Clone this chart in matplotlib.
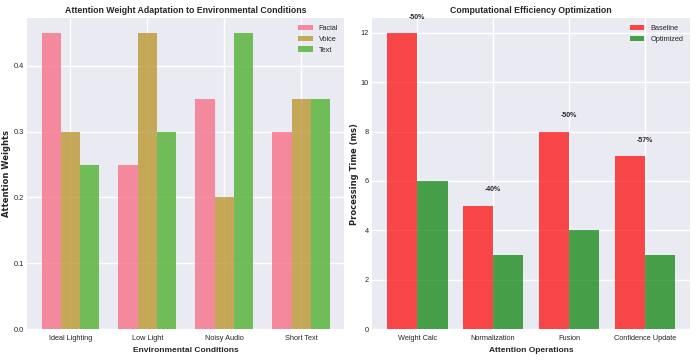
import matplotlib
matplotlib.use("Agg")
import matplotlib.pyplot as plt
import numpy as np
import seaborn as sns

plt.style.use("seaborn-v0_8")
sns.set_palette("husl")
plt.rcParams["font.family"] = ["Liberation Sans", "DejaVu Sans"]

# --- data ---------------------------------------------------------------
conditions = ["Ideal Lighting", "Low Light", "Noisy Audio", "Short Text"]
facial = [0.45, 0.25, 0.35, 0.30]
voice = [0.30, 0.45, 0.20, 0.35]
text = [0.25, 0.30, 0.45, 0.35]

operations = ["Weight Calc", "Normalization", "Fusion", "Confidence Update"]
baseline = [12, 5, 8, 7]
optimized = [6, 3, 4, 3]

TICK = 5.3
LABEL = 6.0
TITLE = 6.3

fig, (ax1, ax2) = plt.subplots(1, 2, figsize=(6.96, 3.62), dpi=100)
fig.subplots_adjust(left=0.039, right=0.991, top=0.950, bottom=0.091, wspace=0.088)

# left: attention weights per condition
x = np.arange(len(conditions))
w = 0.25
ax1.bar(x - w, facial, w, label="Facial", alpha=0.8)
ax1.bar(x, voice, w, label="Voice", alpha=0.8)
ax1.bar(x + w, text, w, label="Text", alpha=0.8)
ax1.set_xticks(x)
ax1.set_xticklabels(conditions)
ax1.set_xlabel("Environmental Conditions", fontweight="bold", fontsize=LABEL,
               labelpad=3.5)
ax1.set_ylabel("Attention Weights", fontweight="bold", fontsize=LABEL,
               family="DejaVu Sans", labelpad=1.5)
ax1.set_title("Attention Weight Adaptation to Environmental Conditions",
              fontweight="bold", fontsize=TITLE, pad=3.5)
ax1.legend(fontsize=TICK)
ax1.tick_params(axis="x", labelsize=TICK, pad=4.5)
ax1.tick_params(axis="y", labelsize=TICK, pad=2.5)

# right: processing time before/after
x2 = np.arange(len(operations))
w2 = 0.4
ax2.bar(x2 - w2 / 2, baseline, w2, label="Baseline", color="red", alpha=0.7)
ax2.bar(x2 + w2 / 2, optimized, w2, label="Optimized", color="green", alpha=0.7)
for i, (b, o) in enumerate(zip(baseline, optimized)):
    pct = (o - b) / b * 100
    ax2.text(i, b + 0.5, f"{pct:.0f}%", ha="center", va="bottom",
             fontweight="bold", fontsize=5)
ax2.set_xticks(x2)
ax2.set_xticklabels(operations)
ax2.set_xlabel("Attention Operations", fontweight="bold", fontsize=LABEL,
               labelpad=3.5)
ax2.set_ylabel("Processing Time (ms)", fontweight="bold", fontsize=LABEL,
               family="DejaVu Sans", labelpad=1.5)
ax2.set_title("Computational Efficiency Optimization", fontweight="bold",
              fontsize=TITLE, pad=3.5)
ax2.legend(fontsize=TICK)
ax2.tick_params(axis="x", labelsize=TICK, pad=4.5)
ax2.tick_params(axis="y", labelsize=TICK, pad=2.5)

fig.savefig("out.png", dpi=100)
